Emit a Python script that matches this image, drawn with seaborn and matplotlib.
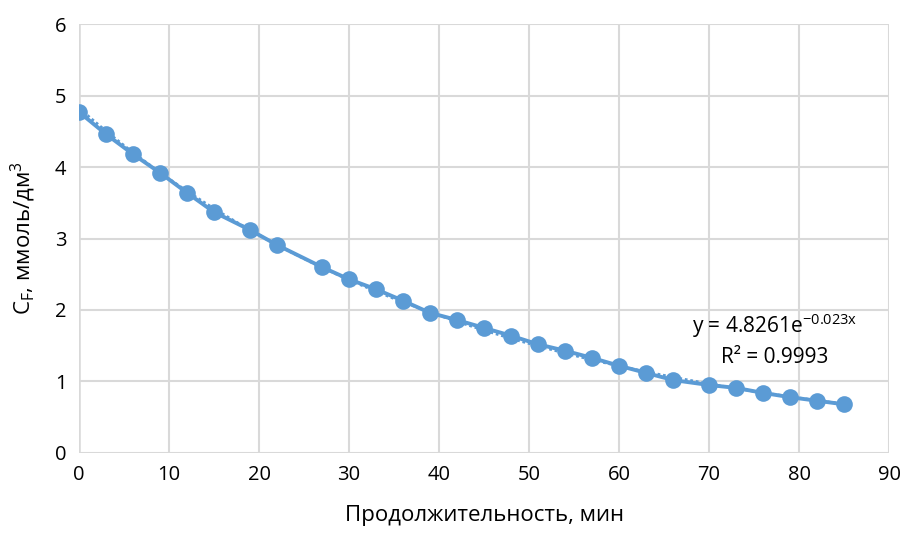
import numpy as np
import pandas as pd
import matplotlib
matplotlib.use("Agg")
import matplotlib.pyplot as plt
import seaborn as sns

# time, min
t_min = [0, 3, 6, 9, 12, 15, 19, 22, 27, 30, 33, 36, 39, 42, 45, 48, 51, 54, 57,
         60, 63, 66, 70, 73, 76, 79, 82, 85]
# fluoride concentration, mmol/dm3
c_f = [4.77, 4.46, 4.18, 3.92, 3.64, 3.37, 3.12, 2.91, 2.60, 2.43, 2.29, 2.13, 1.96,
       1.86, 1.75, 1.64, 1.52, 1.43, 1.33, 1.22, 1.12, 1.02, 0.95, 0.91, 0.84, 0.78,
       0.73, 0.68]

df = pd.DataFrame({"t": t_min, "c": c_f})

sns.set_style("white")
plt.rcParams["font.family"] = ["Open Sans", "DejaVu Sans"]
plt.rcParams["text.color"] = "black"
plt.rcParams["axes.labelcolor"] = "black"

fig = plt.figure(figsize=(9.03, 5.36), dpi=100)
ax = fig.add_axes([0.0875, 0.155, 0.897, 0.80])

blue = "#5b9bd5"
grid_c = "#d9d9d9"

# exponential trend line (Excel-style fit on log values)
k, lna = np.polyfit(df["t"], np.log(df["c"]), 1)
tt = np.linspace(0, 85, 200)
ax.plot(tt, np.exp(lna) * np.exp(k * tt), color=blue, lw=2, ls=(0, (1, 1)), zorder=2)

sns.lineplot(data=df, x="t", y="c", ax=ax, color=blue, lw=2.8, marker="o",
             markersize=12, markeredgewidth=0, zorder=3)

ax.set_xlim(0, 90)
ax.set_ylim(0, 6)
ax.set_xticks(range(0, 91, 10))
ax.set_yticks(range(0, 7))
ax.grid(True, color=grid_c, lw=1.5)
for s in ax.spines.values():
    s.set_visible(False)
ax.axhline(0, color=grid_c, lw=1.8, zorder=1)
ax.axvline(0, color=grid_c, lw=1.8, zorder=1)
ax.tick_params(length=0, labelsize=14.5, pad=9, colors="black")

ax.set_xlabel("Продолжительность, мин", fontsize=16, labelpad=14)
ax.set_ylabel("C$_\\mathregular{F}$, ммоль/дм$^\\mathregular{3}$", fontsize=16, labelpad=12)

ax.text(77.3, 1.78, "y = 4.8261e$^{\\mathregular{-0.023x}}$", fontsize=15, ha="center", va="center")
ax.text(77.3, 1.34, "R² = 0.9993", fontsize=15, ha="center", va="center")

fig.savefig("out.png", dpi=100)
